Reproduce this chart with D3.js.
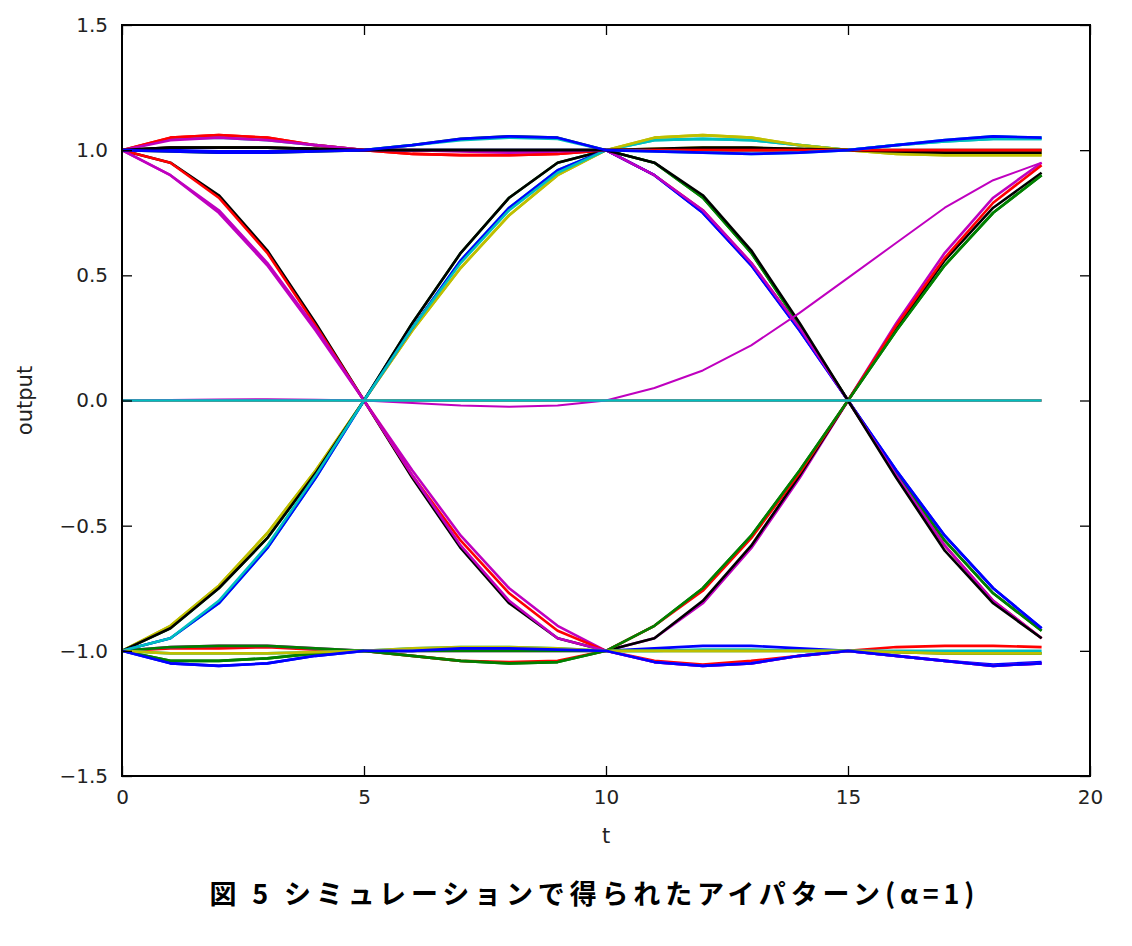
<!DOCTYPE html>
<html><head><meta charset="utf-8">
<script src="https://cdn.jsdelivr.net/npm/d3@7"></script>
<style>
body{margin:0;background:#fff;}
svg{display:block;}
</style></head>
<body>
<svg id="chart" width="1132" height="946"></svg>
<script>
// ---- data ----
const tValues = [0,1,2,3,4,5,6,7,8,9,10,11,12,13,14,15,16,17,18,19];
const xTicks = [0,5,10,15,20];
const yTicks = [-1.5,-1.0,-0.5,0.0,0.5,1.0,1.5];
const colors = {b:"#0000ff", g:"#008000", r:"#ff0000", c:"#00bfbf", m:"#bf00bf", y:"#bfbf00", k:"#000000"};

// first symbol interval, t = 0..10
const U1 = [1, 1.05, 1.06, 1.05, 1.02, 1, 0.985, 0.98, 0.98, 0.985, 1];
const U2 = [1, 1.04, 1.05, 1.04, 1.02, 1, 1.0, 0.995, 0.99, 0.995, 1];
const U3 = [1, 0.995, 0.99, 0.99, 0.995, 1, 1.02, 1.045, 1.055, 1.05, 1];
const U4 = [1, 1.01, 1.01, 1.01, 1.005, 1, 1.0, 1.0, 1.0, 1.0, 1];
const U5 = [1, 1.0, 0.995, 0.995, 0.998, 1, 1.0, 1.0, 1.0, 1.0, 1];
const U6 = [1, 1.045, 1.05, 1.04, 1.02, 1, 1.02, 1.04, 1.05, 1.045, 1];
const F1 = [1, 0.95, 0.82, 0.6, 0.31, 0, -0.31, -0.59, -0.81, -0.95, -1];
const F2 = [1, 0.95, 0.81, 0.59, 0.3, 0, -0.3, -0.56, -0.77, -0.92, -1];
const F3 = [1, 0.9, 0.75, 0.54, 0.28, 0, -0.28, -0.54, -0.75, -0.9, -1];
const F4 = [1, 0.9, 0.76, 0.55, 0.29, 0, -0.3, -0.58, -0.8, -0.95, -1];
const R1 = [-1, -0.9, -0.74, -0.53, -0.28, 0, 0.28, 0.53, 0.74, 0.9, 1];
const R2 = [-1, -0.95, -0.81, -0.59, -0.31, 0, 0.29, 0.56, 0.77, 0.92, 1];
const R3 = [-1, -0.91, -0.75, -0.55, -0.29, 0, 0.31, 0.59, 0.81, 0.95, 1];
const R4 = [-1, -0.95, -0.8, -0.58, -0.3, 0, 0.29, 0.55, 0.76, 0.91, 1];
const L1 = [-1, -1.05, -1.06, -1.05, -1.02, -1, -1.0, -0.99, -0.99, -0.995, -1];
const L2 = [-1, -1.04, -1.04, -1.03, -1.01, -1, -1.02, -1.04, -1.05, -1.045, -1];
const L3 = [-1, -0.985, -0.98, -0.98, -0.99, -1, -1.0, -1.0, -1.0, -1.0, -1];
const L4 = [-1, -0.99, -0.99, -0.985, -0.995, -1, -1.02, -1.04, -1.045, -1.04, -1];
const L5 = [-1, -1.01, -1.01, -1.01, -1.005, -1, -0.99, -0.985, -0.985, -0.99, -1];
const Z1 = [0, 0, 0, 0, 0, 0, 0, 0, 0, 0, 0];
const Z2 = [0, 0.002, 0.004, 0.005, 0.003, 0, -0.01, -0.02, -0.025, -0.02, 0];

// second symbol interval, t = 11..19
const u1 = [1.05, 1.06, 1.05, 1.02, 1.0, 0.985, 0.98, 0.98, 0.98];
const u2 = [0.995, 0.99, 0.985, 0.99, 1.0, 1.02, 1.04, 1.055, 1.05];
const u3 = [1.04, 1.045, 1.04, 1.02, 1.0, 1.02, 1.035, 1.045, 1.045];
const u4 = [1.0, 1.0, 1.0, 1.0, 1.0, 1.0, 1.0, 1.0, 1.0];
const u5 = [1.005, 1.01, 1.01, 1.005, 1.0, 0.995, 0.99, 0.99, 0.99];
const f1 = [0.95, 0.82, 0.6, 0.31, 0, -0.31, -0.6, -0.81, -0.95];
const f2 = [0.9, 0.75, 0.54, 0.28, 0, -0.28, -0.54, -0.75, -0.91];
const f3 = [0.9, 0.76, 0.55, 0.29, 0, -0.3, -0.58, -0.8, -0.95];
const f4 = [0.95, 0.81, 0.59, 0.3, 0, -0.29, -0.56, -0.77, -0.92];
const r1 = [-0.95, -0.81, -0.59, -0.31, 0, 0.31, 0.59, 0.81, 0.95];
const r2 = [-0.9, -0.75, -0.54, -0.28, 0, 0.28, 0.54, 0.75, 0.9];
const r3 = [-0.95, -0.8, -0.58, -0.3, 0, 0.29, 0.56, 0.77, 0.91];
const r4 = [-0.9, -0.76, -0.55, -0.29, 0, 0.3, 0.57, 0.79, 0.94];
const l1 = [-1.04, -1.055, -1.04, -1.02, -1.0, -0.985, -0.98, -0.98, -0.985];
const l2 = [-1.045, -1.06, -1.05, -1.02, -1.0, -1.02, -1.04, -1.06, -1.05];
const l3 = [-0.99, -0.98, -0.98, -0.99, -1.0, -1.02, -1.04, -1.055, -1.045];
const l4 = [-1.0, -1.0, -1.0, -1.0, -1.0, -1.005, -1.01, -1.01, -1.01];
const l5 = [-1.0, -0.995, -0.995, -1.0, -1.0, -1.0, -1.0, -1.0, -1.0];
const z1 = [0, 0, 0, 0, 0, 0, 0, 0, 0];
const z2 = [0.05, 0.12, 0.22, 0.35, 0.49, 0.63, 0.77, 0.88, 0.95];

// traces: [colour key, first interval, second interval]
const traces = [
  ["g", U3, f4], ["g", L2, r2], ["r", U1, f3], ["c", R2, u3], ["m", F3, r1],
  ["y", R1, u1], ["k", F1, r3], ["b", L1, l3], ["g", R3, f4], ["r", L4, l1],
  ["c", U6, u3], ["m", L3, l2], ["y", U4, u1], ["k", U4, u4], ["b", U5, f2],
  ["g", L3, l4], ["r", F2, r4], ["c", L5, l5], ["m", F4, l2], ["y", R1, u5],
  ["k", R3, u5], ["b", R2, f2], ["g", L2, r2], ["r", U1, u4], ["c", R4, u2],
  ["m", U2, f3], ["y", L5, l4], ["k", U4, f1], ["b", L1, l2], ["b", U3, u2],
  ["r", Z1, z1], ["m", Z2, z2], ["c", Z1, z1]
];

// ---- layout ----
const svg = d3.select("#chart");
const mLeft = 122, mRight = 1090, mTop = 25, mBottom = 776;
const x = d3.scaleLinear().domain([0, 20]).range([mLeft, mRight]);
const y = d3.scaleLinear().domain([-1.5, 1.5]).range([mBottom, mTop]);

const line = d3.line().x(d => x(d[0])).y(d => y(d[1]));

const plot = svg.append("g");
traces.forEach(([ck, a, b]) => {
  const vals = a.concat(b);
  const pts = tValues.map((t, i) => [t, vals[i]]);
  plot.append("path")
    .attr("d", line(pts))
    .attr("fill", "none")
    .attr("stroke", colors[ck])
    .attr("stroke-width", a === Z2 ? 2 : 2.6)
    .attr("stroke-linejoin", "round");
});

// axes
const fmtY = d => d3.format(".1f")(d).replace("-", "\u2212");
const tickFont = "DejaVu Sans, sans-serif";
const axB = svg.append("g").attr("transform", `translate(0,${mBottom})`)
  .call(d3.axisBottom(x).tickValues(xTicks).tickSize(-10).tickPadding(14).tickFormat(d3.format("d")));
const axT = svg.append("g").attr("transform", `translate(0,${mTop})`)
  .call(d3.axisTop(x).tickValues(xTicks).tickSize(-10).tickFormat(""));
const axL = svg.append("g").attr("transform", `translate(${mLeft},0)`)
  .call(d3.axisLeft(y).tickValues(yTicks).tickSize(-10).tickPadding(14).tickFormat(fmtY));
const axR = svg.append("g").attr("transform", `translate(${mRight},0)`)
  .call(d3.axisRight(y).tickValues(yTicks).tickSize(-10).tickFormat(""));
[axB, axT, axL, axR].forEach(g => {
  g.select(".domain").remove();
  g.selectAll(".tick line").attr("stroke", "#000").attr("stroke-width", 1.3);
  g.selectAll("text").attr("font-family", tickFont).attr("font-size", 20).attr("fill", "#222");
});

svg.append("rect").attr("x", mLeft).attr("y", mTop)
  .attr("width", mRight - mLeft).attr("height", mBottom - mTop)
  .attr("fill", "none").attr("stroke", "#000").attr("stroke-width", 2);

svg.append("text").attr("x", (mLeft + mRight) / 2).attr("y", 843)
  .attr("text-anchor", "middle").attr("font-family", tickFont).attr("font-size", 21)
  .attr("fill", "#222").text("t");
svg.append("text").attr("transform", `translate(32,${(mTop + mBottom) / 2}) rotate(-90)`)
  .attr("text-anchor", "middle").attr("font-family", tickFont).attr("font-size", 21)
  .attr("fill", "#222").text("output");

svg.append("text").attr("x", 592).attr("y", 904)
  .attr("text-anchor", "middle")
  .attr("font-family", "'Noto Sans CJK JP', sans-serif").attr("font-weight", 700)
  .attr("font-size", 27).attr("fill", "#000")
  .attr("textLength", 765).attr("lengthAdjust", "spacing")
  .text("図 5 シミュレーションで得られたアイパターン(α=1)");
</script>
</body></html>
